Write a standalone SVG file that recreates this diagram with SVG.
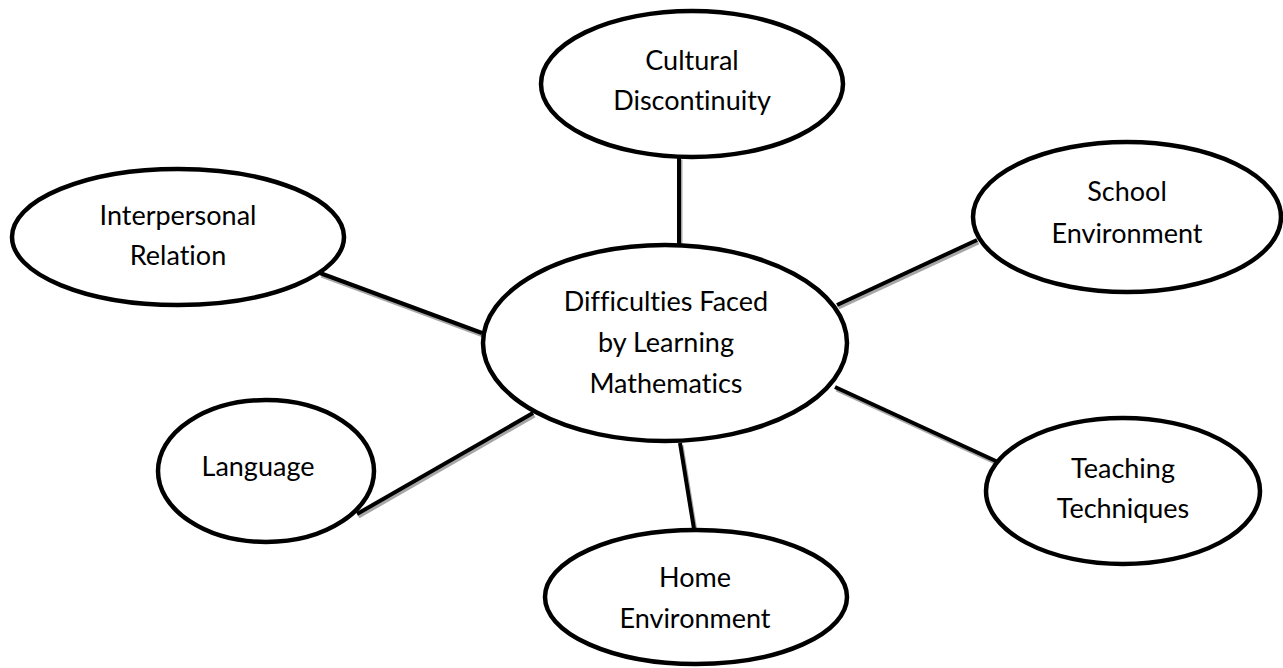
<svg xmlns="http://www.w3.org/2000/svg" width="1283" height="668" viewBox="0 0 1283 668">
  <style>
    .node ellipse { fill: #ffffff; stroke: #000000; stroke-width: 4.5; }
    .node text { font-family: Lato, "Liberation Sans", sans-serif; font-size: 27px; fill: #000000; text-anchor: middle; font-variant-ligatures: none; font-feature-settings: "liga" 0, "dlig" 0; }
    .shadow { stroke: #a6a6a6; stroke-width: 4; }
    .link { stroke: #000000; stroke-width: 4; }
  </style>
  <rect width="1283" height="668" fill="#ffffff"/>

  <!-- spokes from the centre to each satellite, with a soft grey drop shadow -->
  <g id="connectors">
    <g class="shadow" transform="translate(1.5,2.5)">
      <line x1="679" y1="157" x2="679" y2="247"/>
      <line x1="320" y1="273" x2="482" y2="333"/>
      <line x1="837" y1="305" x2="977" y2="240"/>
      <line x1="835" y1="387" x2="998" y2="462"/>
      <line x1="357" y1="514" x2="533" y2="413"/>
      <line x1="680" y1="443" x2="694" y2="529"/>
    </g>
    <g class="link">
      <line x1="679" y1="157" x2="679" y2="247"/>
      <line x1="320" y1="273" x2="482" y2="333"/>
      <line x1="837" y1="305" x2="977" y2="240"/>
      <line x1="835" y1="387" x2="998" y2="462"/>
      <line x1="357" y1="514" x2="533" y2="413"/>
      <line x1="680" y1="443" x2="694" y2="529"/>
    </g>
  </g>

  <g id="center" class="node">
    <ellipse cx="665" cy="343" rx="182" ry="98"/>
    <text x="666" y="311">Difficulties Faced</text>
    <text x="666" y="352">by Learning</text>
    <text x="666" y="393">Mathematics</text>
  </g>

  <g id="cultural" class="node">
    <ellipse cx="692" cy="84" rx="151" ry="73"/>
    <text x="692" y="70">Cultural</text>
    <text x="692" y="110">Discontinuity</text>
  </g>

  <g id="interpersonal" class="node">
    <ellipse cx="178" cy="237" rx="166" ry="68"/>
    <text x="178" y="225">Interpersonal</text>
    <text x="178" y="265">Relation</text>
  </g>

  <g id="school" class="node">
    <ellipse cx="1127" cy="217" rx="154" ry="75"/>
    <text x="1127" y="201">School</text>
    <text x="1127" y="243">Environment</text>
  </g>

  <g id="teaching" class="node">
    <ellipse cx="1123" cy="491" rx="137" ry="73"/>
    <text x="1123" y="478">Teaching</text>
    <text x="1123" y="518">Techniques</text>
  </g>

  <g id="language" class="node">
    <ellipse cx="266" cy="471" rx="108" ry="71"/>
    <text x="258" y="476">Language</text>
  </g>

  <g id="home" class="node">
    <ellipse cx="696" cy="597" rx="151" ry="67"/>
    <text x="695" y="587">Home</text>
    <text x="695" y="628">Environment</text>
  </g>
</svg>
